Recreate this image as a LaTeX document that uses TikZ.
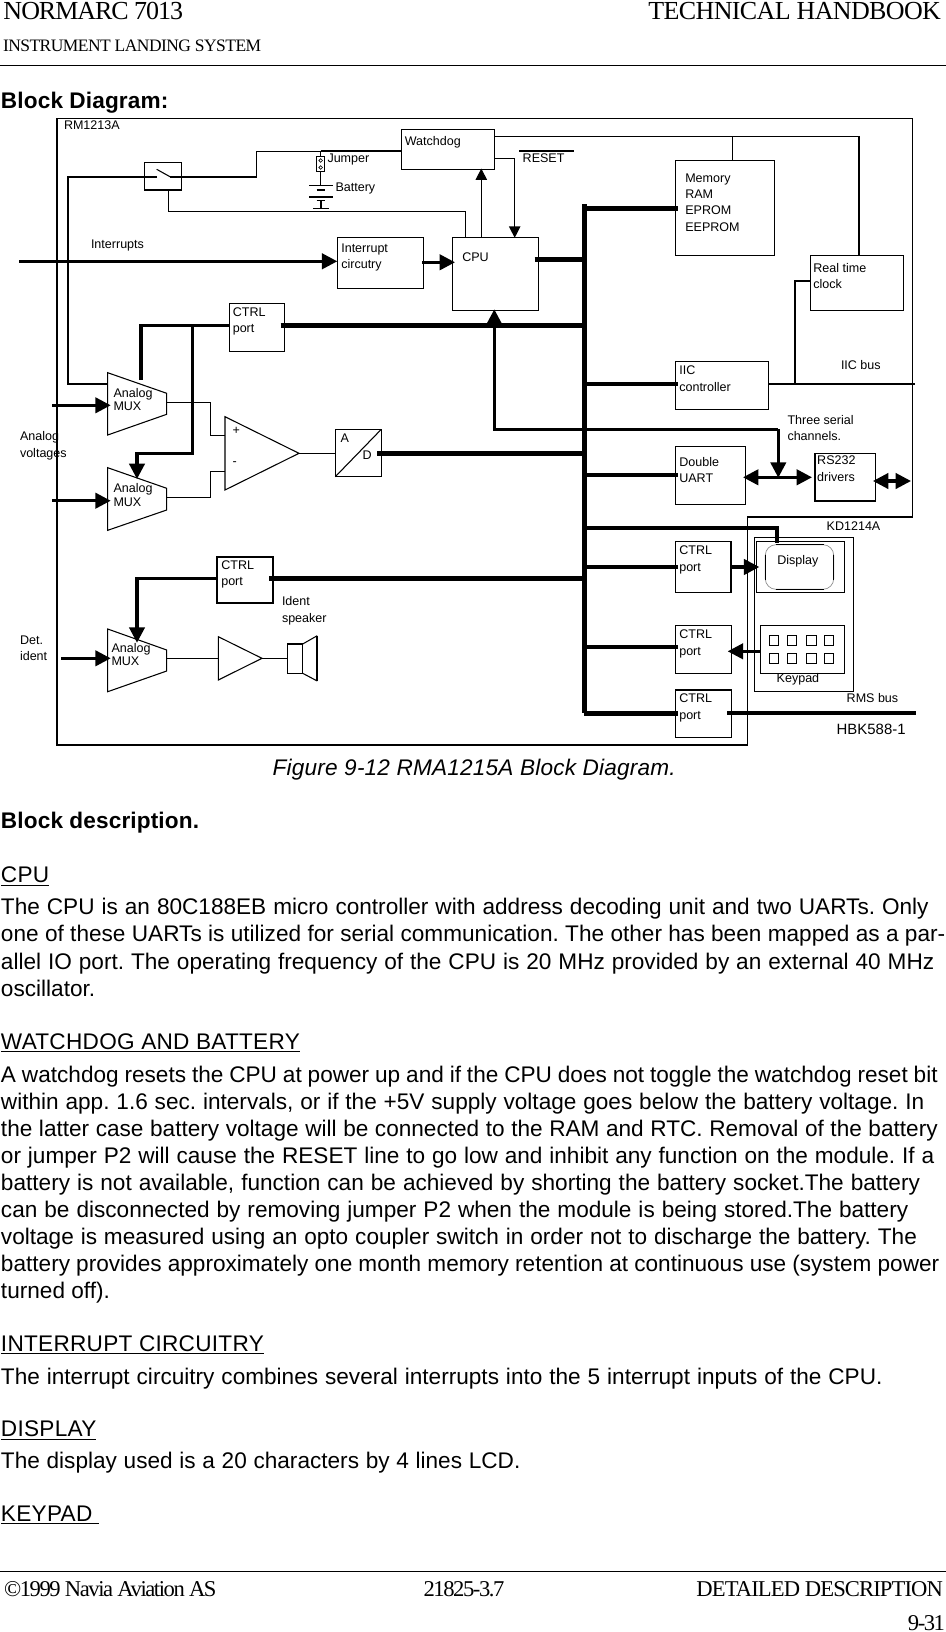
\documentclass[tikz,border=0pt]{standalone}
\usepackage{fontspec}
\usetikzlibrary{arrows.meta}
\setmainfont{Liberation Sans}
\newfontfamily\tmsA[LetterSpace=-2.4]{Liberation Serif}
\newfontfamily\tmsN[LetterSpace=-4.0]{Liberation Serif}
\newfontfamily\tmsB[LetterSpace=-3.0]{Liberation Serif}
\newfontfamily\tmsC[LetterSpace=-6.3]{Liberation Serif}
\newfontfamily\tmsD[LetterSpace=-3.9]{Liberation Serif}
\newfontfamily\hbold[LetterSpace=0.6]{Liberation Sans Bold}
\newfontfamily\hital[LetterSpace=0.9]{Liberation Sans Italic}
\newfontfamily\hcaps[LetterSpace=1.2]{Liberation Sans}
\newdimen\ppx \ppx=0.75pt
% box content: width, height, left pad, first baseline offset, line skip, text
\newcommand{\bt}[6]{\parbox[c][#2\ppx][t]{#1\ppx}{\raggedright\leftskip=#3\ppx\baselineskip=#5\ppx\rule{0pt}{#4\ppx}#6}}
% one line of page text, set to the width it has in the reference
\newcommand{\lnw}[2]{\makebox[#1\ppx][s]{#2}}
\tikzset{
  w1/.style={line width=.8pt},
  w2/.style={line width=1.5pt},
  w3/.style={line width=2.3pt},
  w4/.style={line width=3pt},
  w5/.style={line width=3.6pt},
  bhead/.tip={Triangle[length=11.5pt,width=11.5pt]},
  shead/.tip={Triangle[length=8.5pt,width=8.5pt]},
  bx/.style={draw,line width=.8pt,inner sep=0pt,outer sep=0pt,anchor=north west,font=\dg},
  lbl/.style={inner sep=0pt,outer sep=0pt,anchor=base west,font=\dg},
  para/.style={inner sep=0pt,outer sep=0pt,anchor=north west,align=left,font=\frenchspacing\fontsize{16.95pt}{20.3pt}\selectfont},
  hd/.style={inner sep=0pt,outer sep=0pt},
  every node/.append style={text=black}
}
\newcommand{\dg}{\fontsize{9.4pt}{12pt}\selectfont}
\begin{document}
\begin{tikzpicture}[x=0.75pt,y=-0.75pt]
\useasboundingbox (0,0) rectangle (946,1632);
\fill[white] (0,0) rectangle (946,1632);
% ---------- page furniture
\node[hd,anchor=base west,font=\tmsN\fontsize{19.5pt}{22pt}\selectfont] (h1) at (3.5,19.5) {NORMARC 7013};
\node[hd,anchor=base east,font=\tmsA\fontsize{19.5pt}{22pt}\selectfont] (h2) at (941,19.2) {TECHNICAL HANDBOOK};
\node[hd,anchor=base west,font=\tmsB\fontsize{13.1pt}{16pt}\selectfont] (h3) at (3,51) {INSTRUMENT LANDING SYSTEM};
\coordinate (hl) at (0,65.3); \coordinate (hr) at (946,65.3);
\draw[w1] (hl) -- (hr);
\coordinate (fl) at (0,1571.3); \coordinate (fr) at (946,1571.3);
\draw[w1] (fl) -- (fr);
\node[hd,anchor=base west,font=\tmsC\fontsize{16.95pt}{20pt}\selectfont] (f1) at (4,1596) {©1999 Navia Aviation AS};
\node[hd,anchor=base west,font=\tmsC\fontsize{16.95pt}{20pt}\selectfont] (f2) at (423.5,1596) {21825-3.7};
\node[hd,anchor=base east,font=\tmsD\fontsize{16.95pt}{20pt}\selectfont] (f3) at (943,1596) {DETAILED DESCRIPTION};
\node[hd,anchor=base east,font=\tmsC\fontsize{16.95pt}{20pt}\selectfont] (f4) at (945,1630) {9-31};
\node[hd,anchor=base west,font=\hbold\fontsize{16.95pt}{20pt}\selectfont] (bd) at (1,108.3) {Block Diagram:};
% ---------- outer frames
\draw[w1] (57,118.3) -- (912.7,118.3) -- (912.7,517) -- (747.5,517) -- (747.5,745) -- (57,745) -- cycle;
\node[lbl] (rm) at (64,129.5) {RM1213A};
\node[lbl] (kd) at (826.7,530.2) {KD1214A};
\node[lbl] (rms) at (846.7,702.2) {RMS bus};
\node[lbl,font=\fontsize{11.2pt}{13pt}\selectfont] (hbk) at (836.7,734) {HBK588-1};
% ---------- boxes
\node[bx] (wd) at (401.3,129.3) {\bt{93.4}{40}{3.5}{15.9}{16}{Watchdog}};
\node[bx] (mem) at (675.3,160.3) {\bt{99.4}{95}{10}{21.9}{16.3}{Memory\\RAM\\EPROM\\EEPROM}};
\node[bx] (rtc) at (810.3,255.3) {\bt{93.4}{55}{3}{16.9}{16.3}{Real time\\clock}};
\node[bx] (iic) at (675.3,361.3) {\bt{93.4}{48}{4}{12.7}{17}{IIC\\controller}};
\node[bx] (uart) at (675.3,446.3) {\bt{70.4}{58}{4}{19.9}{16.3}{Double\\UART}};
\node[bx] (rs) at (814.7,453.3) {\bt{61}{47.7}{2.5}{10.9}{17}{RS232\\drivers}};
\node[bx] (cpu) at (452.3,237.3) {\bt{86.4}{73}{10}{24.2}{16}{CPU}};
\node[bx] (intc) at (337.3,237.3) {\bt{86.4}{51}{4}{15.2}{16.3}{Interrupt\\circutry}};
\node[bx] (ct1) at (229.3,303.3) {\bt{55.4}{48}{3.5}{12.7}{16.5}{CTRL\\port}};
\node[bx,w2] (ct2) at (217.3,556.7) {\bt{56}{46.6}{4}{12.5}{16.5}{CTRL\\port}};
\node[bx] (ct3) at (675.3,541.7) {\bt{56}{50.6}{4}{12.5}{17}{CTRL\\port}};
\node[bx] (ct4) at (675.3,625.3) {\bt{56}{48.4}{4}{12.9}{17}{CTRL\\port}};
\node[bx] (ct5) at (675.3,690) {\bt{56}{47.3}{4}{12.5}{17}{CTRL\\port}};
\node[bx] (ad) at (335.3,429.3) {\bt{46}{47.4}{0}{1}{16}{}};
\node[bx] (sw) at (144.3,162.3) {\bt{37.4}{27.7}{0}{1}{16}{}};
\node[bx] (kdb) at (754.3,537.3) {\bt{99.4}{154}{0}{1}{16}{}};
\node[bx] (dspo) at (756.3,541.3) {\bt{88.4}{51}{0}{1}{16}{}};
\node[bx,rounded corners=8pt,draw=black!45,line width=.5pt] (dsp) at (765.3,544.7) {\bt{68.4}{44.6}{12}{19.8}{16}{Display}};
\draw[w1] (775.5,544.7) -- (823.5,544.7);
\draw[w1] (775.5,589.3) -- (823.5,589.3);
\draw[w1] (765.3,554.5) -- (765.3,579.5);
\draw[w1] (833.7,554.5) -- (833.7,579.5);
\node[bx] (kp) at (760.3,625.3) {\bt{84.4}{48.4}{0}{1}{16}{}};
\foreach \kx in {769.3,787.3,806.7,824.3}
  \foreach \ky in {635.3,653.3}
    \draw[w1] (\kx,\ky) rectangle ++(9.5,10.5);
\node[lbl] (kpl) at (776.7,682.2) {Keypad};
% heavier sides seen in the reference
\draw[w2] (rs.south west) -- (rs.south east);
\draw[w2] (rs.south west) -- (rs.north west);
\draw[w2] (ct5.north west) -- (ct5.north east);
\draw[w2] (ct3.north east) -- (ct3.south east);
\draw[w2] (sw.south west) -- (sw.south east);
% ---------- labels
\node[lbl] (lint) at (91,248.5) {Interrupts};
\node[lbl] (ljmp) at (327.5,162.5) {Jumper};
\node[lbl] (lbat) at (335.5,191.5) {Battery};
\node[lbl] (lrst) at (522.7,162.5) {RESET};
\node[lbl] (liic) at (841,369.2) {IIC bus};
\node[lbl] (lser1) at (787.5,424.5) {Three serial};
\node[lbl] (lser2) at (787.5,440.5) {channels.};
\node[lbl] (lav1) at (20,440.2) {Analog};
\node[lbl] (lav2) at (20,457.2) {voltages};
\node[lbl] (ldet1) at (20,644.5) {Det.};
\node[lbl] (ldet2) at (20,660.2) {ident};
\node[lbl] (lid1) at (282,605.2) {Ident};
\node[lbl] (lid2) at (282,622.2) {speaker};
\node[lbl] (lA) at (340.5,442.2) {A};
\node[lbl] (lD) at (362.5,459.5) {D};
\node[lbl] (lp) at (232.5,434.5) {+};
\node[lbl] (lm) at (232.5,465.5) {-};
% ---------- muxes
\draw[w1] (107.7,372.7) -- (166.7,393.3) -- (166.7,414.3) -- (107.7,435) -- cycle;
\node[lbl] (mx1a) at (113.5,397.2) {Analog};
\node[lbl] (mx1b) at (113.5,410.2) {MUX};
\draw[w1] (107.7,467.7) -- (166.7,488.3) -- (166.7,510) -- (107.7,530.3) -- cycle;
\node[lbl] (mx2a) at (113.5,492.2) {Analog};
\node[lbl] (mx2b) at (113.5,506.2) {MUX};
\draw[w1] (107.7,629) -- (166.7,650) -- (166.7,671) -- (107.7,691.7) -- cycle;
\node[lbl] (mx3a) at (111.5,652.2) {Analog};
\node[lbl] (mx3b) at (111.5,665.2) {MUX};
% amplifiers
\draw[w1] (225,416.7) -- (299,453.3) -- (225,490) -- cycle;
\draw[w1] (218.3,636.7) -- (262,658.3) -- (218.3,680) -- cycle;
% speaker
\draw[w1] (287.3,644) rectangle (302.7,673.3);
\draw[w1] (302.7,644) -- (316.7,636) -- (316.7,680.7) -- (302.7,673.3);
\draw[w2] (287.3,644) -- (302.7,644);
\draw[w2] (316.7,636) -- (316.7,680.7);
% AD diagonal
\draw[w1] (ad.south west) -- (ad.north east);
% switch blade
\coordinate (swa) at (157,177); \coordinate (swb) at (170,177);
\draw[w1] (156.7,169.3) -- (170,176.7);
% jumper and battery
\coordinate (jt) at (320.5,151.3); \coordinate (jb) at (320.5,185.7);
\draw[w1] (jt) -- (jb);
\draw[w1,fill=white] (316.7,156.7) rectangle (324.7,171.3);
\draw[line width=.5pt] (320.7,160.5) circle (1.8);
\draw[line width=.5pt] (320.7,167.5) circle (1.8);
\draw[w1] (309.3,185.7) -- (333,185.7);
\draw[w2] (316.7,190) -- (325,190);
\draw[w2] (309.3,197) -- (333,197);
\draw[w1] (316.7,200.5) -- (325,200.5);
\draw[w1] (321,200.5) -- (321,208.3);
\draw[w1] (313.3,208.3) -- (328.7,208.3);
% reset bar
\coordinate (ra) at (519,151); \coordinate (rb) at (573.7,151);
\draw[w2] (ra) -- (rb);
% ---------- bus
\coordinate (bus) at (584.3,204);
\coordinate (busb) at (584.3,713.3);
\draw[w5] (bus) -- (busb);
\draw[w5] (bus |- 0,208.3) -- ([xshift=2.25pt]mem.west |- 0,208.3);
\draw[w5] ([xshift=-3pt]cpu.east |- 0,259.3) -- (bus |- 0,259.3);
\draw[w5] ([xshift=-3pt]ct1.east |- 0,325.3) -- (bus |- 0,325.3);
\draw[w5] (bus |- 0,384) -- ([xshift=2.25pt]iic.west |- 0,384);
\draw[w5] ([xshift=-3pt]ad.east |- 0,453.3) -- (bus |- 0,453.3);
\draw[w4] (bus |- 0,475.3) -- ([xshift=2.25pt]uart.west |- 0,475.3);
\draw[w5] ([xshift=-3pt]ct2.east |- 0,578.3) -- (bus |- 0,578.3);
\draw[w5] (bus |- 0,567) -- ([xshift=2.25pt]ct3.west |- 0,567);
\draw[w4] (bus |- 0,647) -- ([xshift=2.25pt]ct4.west |- 0,647);
\draw[w5] (busb) -- ([xshift=2.25pt]ct5.west |- busb);
\coordinate (rms0) at (916,713.3);
\draw[w4] ([xshift=-3pt]ct5.east |- busb) -- (rms0);
\draw[w4] (bus |- 0,528.3) -- (776.7,528.3) -- (776.7,543.3);
% ---------- thin and medium connectors
\draw[w1] (wd.east |- 0,136.3) -- (859.3,136.3);
\draw[w2] (859.3,136.3) -- (859.3,255.3);
\draw[w1] (mem.north |- 0,136.3) ++(7.3,0) -- ++(0,24);
\draw[w2] (rtc.west |- 0,281.3) -- (795,281.3) -- (795,384);
\draw[w2] (iic.east |- 0,384) -- (915,384);
\draw[w2] (swa) -- (67.7,177) -- (67.7,384) -- (108,384);
\draw[w2] (swb) -- (256.7,177);
\draw[w1] (256.7,177) -- (256.7,151.3) -- (jt);
\draw[w2] (jt) -- (wd.west |- jt);
\draw[w1] (168.3,190) -- (168.3,211.3) -- (465.7,211.3) -- (cpu.north -| 465.7,0);
\draw[w1] (wd.east |- 0,158.3) -- (514.7,158.3) coordinate (r1);
\draw[w1,-{shead}] (r1) -- (514.7,237.8);
\draw[w1,-{shead}] (481.3,237.3) -- (481.3,168.5);
% interrupts
\coordinate (intin) at (19,261.3);
\draw[w3,-{bhead}] (intin) -- (intc.west |- intin);
\draw[w3,-{bhead}] ([xshift=-1pt]intc.east |- 0,262.3) -- (455,262.3);
% CPU feedback / serial
\draw[w3,-{bhead}] (778.3,429.3) -- (494.3,429.3) -- (494.3,309.3);
\draw[w3,-{bhead}] (778.3,429.3) -- (778.3,477.7);
\draw[w3,{bhead}-{bhead}] (743,477.3) -- (812,477.3);
\draw[w3,{bhead}-{bhead}] (873,481) -- (911,481);
% ctrl 1 to muxes
\draw[w3] (ct1.west |- 0,325.3) -- (141,325.3) -- (141,380);
\draw[w3,-{bhead}] (192.3,325.3) -- (192.3,453.3) -- (137,453.3) -- (137,479);
\draw[w3,-{bhead}] (ct2.west |- 0,578.3) -- (137,578.3) -- (137,642.7);
% mux inputs
\coordinate (i1) at (52,405.3); \coordinate (i2) at (52,500.7); \coordinate (i3) at (61,658.3);
\draw[w3,-{bhead}] (i1) -- (110.7,405.3);
\draw[w3,-{bhead}] (i2) -- (110.7,500.7);
\draw[w3,-{bhead}] (i3) -- (110.7,658.3);
% analogue signal path
\draw[w1] (166.7,402.3) -- (210.7,402.3) -- (210.7,435.3) -- (225,435.3);
\draw[w1] (166.7,497.3) -- (210.7,497.3) -- (210.7,471.3) -- (225,471.3);
\draw[w1] (299,453.3) -- (ad.west |- 0,453.3);
\draw[w1] (166.7,658.3) -- (218.3,658.3);
\draw[w1] (262,658.3) -- (288.3,658.3);
% display and keypad
\draw[w3,-{bhead}] (ct3.east |- 0,567) -- (759.3,567);
\draw[w3,-{bhead}] (kp.west |- 0,651.3) -- (727.7,651.3);
% ---------- page text
\node[para,font=\hital\fontsize{16.95pt}{20.3pt}\selectfont] (cap) at (272.7,759) {Figure 9-12 RMA1215A Block Diagram.};
\node[para,font=\hbold\fontsize{16.95pt}{20.3pt}\selectfont] (bdesc) at (1,812) {Block description.};
\node[para,font=\hcaps\fontsize{16.95pt}{20.3pt}\selectfont] (t1h) at (1,867) {\underline{CPU}};
\node[para] (t1) at (1,898.5) {\lnw{927.7}{The CPU is an 80C188EB micro controller with address decoding unit and two UARTs. Only}\\\lnw{944.3}{one of these UARTs is utilized for serial communication. The other has been mapped as a par-}\\\lnw{933.3}{allel IO port. The operating frequency of the CPU is 20 MHz provided by an external 40 MHz}\\oscillator.};
\node[para,font=\hcaps\fontsize{16.95pt}{20.3pt}\selectfont] (t2h) at (1,1033.7) {\underline{WATCHDOG AND BATTERY}};
\node[para] (t2) at (1,1066) {\lnw{936.7}{A watchdog resets the CPU at power up and if the CPU does not toggle the watchdog reset bit}\\\lnw{923.3}{within app. 1.6 sec. intervals, or if the +5V supply voltage goes below the battery voltage. In}\\\lnw{936.7}{the latter case battery voltage will be connected to the RAM and RTC. Removal of the battery}\\\lnw{933.3}{or jumper P2 will cause the RESET line to go low and inhibit any function on the module. If a}\\\lnw{919}{battery is not available, function can be achieved by shorting the battery socket.The battery}\\\lnw{907.3}{can be disconnected by removing jumper P2 when the module is being stored.The battery}\\\lnw{916}{voltage is measured using an opto coupler switch in order not to discharge the battery. The}\\\lnw{938.3}{battery provides approximately one month memory retention at continuous use (system power}\\turned off).};
\node[para,font=\hcaps\fontsize{16.95pt}{20.3pt}\selectfont] (t3h) at (1,1335.5) {\underline{INTERRUPT CIRCUITRY}};
\node[para] (t3) at (1,1367.8) {\lnw{881.5}{The interrupt circuitry combines several interrupts into the 5 interrupt inputs of the CPU.}};
\node[para,font=\hcaps\fontsize{16.95pt}{20.3pt}\selectfont] (t4h) at (1,1420.9) {\underline{DISPLAY}};
\node[para] (t4) at (1,1452) {\lnw{519.4}{The display used is a 20 characters by 4 lines LCD.}};
\node[para,font=\hcaps\fontsize{16.95pt}{20.3pt}\selectfont] (t5h) at (1,1506) {\underline{KEYPAD\ }};
\end{tikzpicture}
\end{document}
